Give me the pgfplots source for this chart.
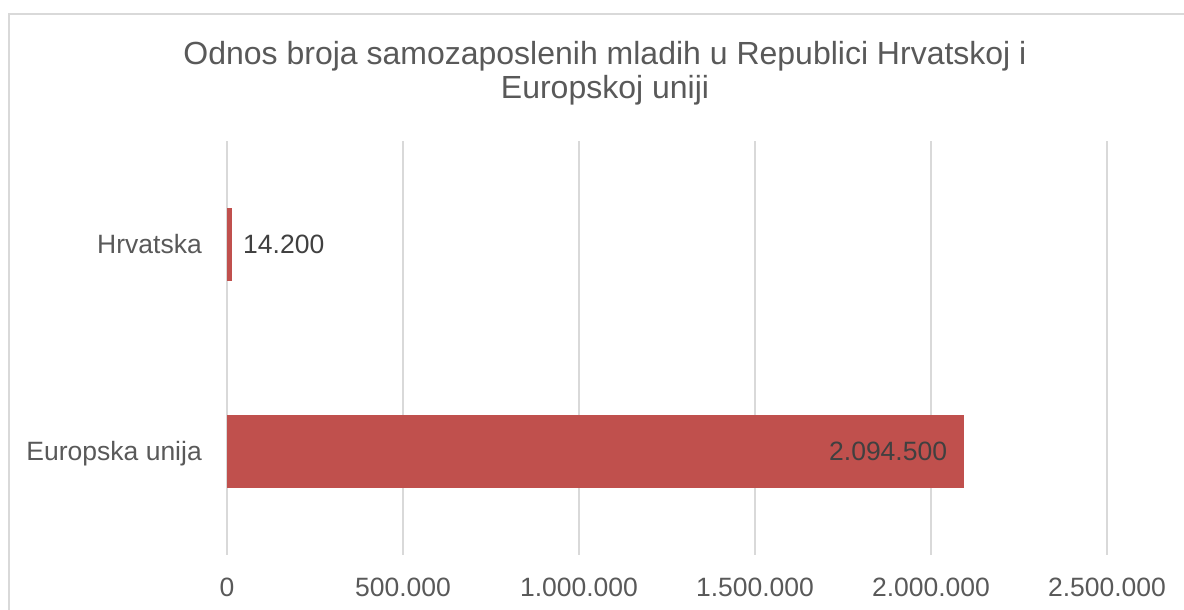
\documentclass[border=0pt]{standalone}
\usepackage{pgfplots}
\pgfplotsset{compat=1.18}
\usepackage{fontspec}
\setmainfont{Liberation Sans}
\definecolor{barred}{HTML}{C0504D}
\definecolor{gridgray}{HTML}{D9D9D9}
\definecolor{txtgray}{HTML}{595959}
\definecolor{lblgray}{HTML}{404040}
\begin{document}
\begin{tikzpicture}
\path[use as bounding box] (0pt,0pt) rectangle (1184pt,610pt);
\begin{scope}
\clip (0pt,0pt) rectangle (1184pt,610pt);
\draw[gridgray, line width=1.6pt] (9pt,-10pt) -- (9pt,596pt) -- (1200pt,596pt);
\end{scope}
\node[font=\fontsize{32}{38}\selectfont, text=txtgray, anchor=base, inner sep=0pt] at (605pt,545pt) {Odnos broja samozaposlenih mladih u Republici Hrvatskoj i};
\node[font=\fontsize{32}{38}\selectfont, text=txtgray, anchor=base, inner sep=0pt] at (605pt,511pt) {Europskoj uniji};
\begin{axis}[
  at={(227pt,55pt)}, anchor=south west, scale only axis,
  width=880pt, height=414pt,
  xbar, bar width=73pt, bar shift=0pt,
  xmin=0, xmax=2500000, ymin=-0.5, ymax=1.5,
  xtick={0,500000,1000000,1500000,2000000,2500000},
  scaled x ticks=false,
  ytick={0,1}, yticklabels={Europska unija, Hrvatska},
  axis line style={draw=none}, major tick length=0pt,
  xmajorgrids, grid style={gridgray, line width=1.5pt},
  tick label style={font=\fontsize{26.5}{30}\selectfont, text=txtgray, inner sep=0pt},
  xticklabel style={anchor=base, yshift=-42pt},
  yticklabel style={anchor=base east, xshift=-25pt, yshift=-9.5pt},
  /pgf/number format/fixed, /pgf/number format/1000 sep={.},
  /pgf/number format/assume math mode=true,
  clip=false,
]
\addplot[fill=barred, draw=none, nodes near coords, point meta=x,
  every node near coord/.append style={anchor=west, inner sep=0pt, xshift=11pt,
  font=\fontsize{26.5}{30}\selectfont, text=lblgray}]
  coordinates {(14200,1)};
\addplot[fill=barred, draw=none, nodes near coords, point meta=x,
  every node near coord/.append style={anchor=east, inner sep=0pt, xshift=-17pt,
  font=\fontsize{26.5}{30}\selectfont, text=lblgray}]
  coordinates {(2094500,0)};
\end{axis}
\end{tikzpicture}
\end{document}
